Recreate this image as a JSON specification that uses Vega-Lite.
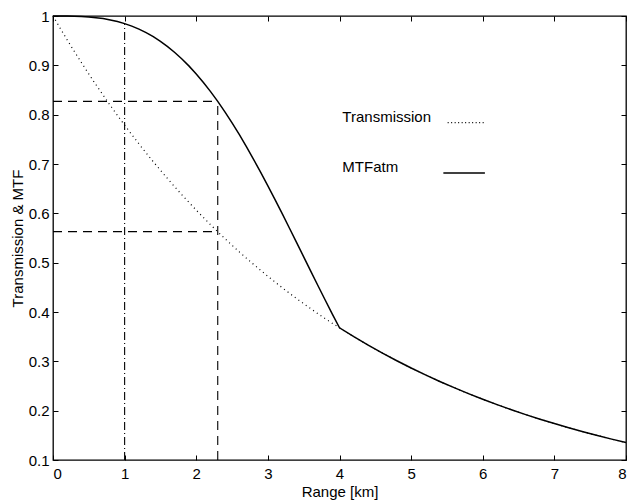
{
  "$schema": "https://vega.github.io/schema/vega-lite/v6.json",
  "width": 573,
  "height": 444,
  "autosize": "none",
  "padding": {"left": 53, "top": 16, "right": 3, "bottom": 40},
  "background": "white",
  "config": {
    "font": "Liberation Sans",
    "view": {"stroke": "black", "strokeWidth": 1.3},
    "axis": {
      "domain": false,
      "grid": false,
      "tickColor": "black",
      "tickWidth": 1,
      "labelColor": "black",
      "labelFont": "Liberation Sans",
      "labelFontSize": 15,
      "labelFontWeight": "normal",
      "titleColor": "black",
      "titleFont": "Liberation Sans",
      "titleFontSize": 15,
      "titleFontWeight": "normal"
    },
    "text": {"font": "Liberation Sans", "fontSize": 15, "color": "black"}
  },
  "datasets": {
    "transmission": [
      {"range": 0.0, "value": 1.0},
      {"range": 0.2, "value": 0.9512},
      {"range": 0.4, "value": 0.9048},
      {"range": 0.6, "value": 0.8607},
      {"range": 0.8, "value": 0.8187},
      {"range": 1.0, "value": 0.7788},
      {"range": 1.2, "value": 0.7408},
      {"range": 1.4, "value": 0.7047},
      {"range": 1.6, "value": 0.6703},
      {"range": 1.8, "value": 0.6376},
      {"range": 2.0, "value": 0.6065},
      {"range": 2.2, "value": 0.5769},
      {"range": 2.4, "value": 0.5488},
      {"range": 2.6, "value": 0.522},
      {"range": 2.8, "value": 0.4966},
      {"range": 3.0, "value": 0.4724},
      {"range": 3.2, "value": 0.4493},
      {"range": 3.4, "value": 0.4274},
      {"range": 3.6, "value": 0.4066},
      {"range": 3.8, "value": 0.3867},
      {"range": 4.0, "value": 0.3679},
      {"range": 4.2, "value": 0.3499},
      {"range": 4.4, "value": 0.3329},
      {"range": 4.6, "value": 0.3166},
      {"range": 4.8, "value": 0.3012},
      {"range": 5.0, "value": 0.2865},
      {"range": 5.2, "value": 0.2725},
      {"range": 5.4, "value": 0.2592},
      {"range": 5.6, "value": 0.2466},
      {"range": 5.8, "value": 0.2346},
      {"range": 6.0, "value": 0.2231},
      {"range": 6.2, "value": 0.2122},
      {"range": 6.4, "value": 0.2019},
      {"range": 6.6, "value": 0.192},
      {"range": 6.8, "value": 0.1827},
      {"range": 7.0, "value": 0.1738},
      {"range": 7.2, "value": 0.1653},
      {"range": 7.4, "value": 0.1572},
      {"range": 7.6, "value": 0.1496},
      {"range": 7.8, "value": 0.1423},
      {"range": 8.0, "value": 0.1353}
    ],
    "mtf": [
      {"range": 0.0, "value": 1.0},
      {"range": 0.1, "value": 1.0},
      {"range": 0.2, "value": 0.9999},
      {"range": 0.3, "value": 0.9996},
      {"range": 0.4, "value": 0.999},
      {"range": 0.5, "value": 0.998},
      {"range": 0.6, "value": 0.9966},
      {"range": 0.7, "value": 0.9947},
      {"range": 0.8, "value": 0.992},
      {"range": 0.9, "value": 0.9887},
      {"range": 1.0, "value": 0.9845},
      {"range": 1.1, "value": 0.9794},
      {"range": 1.2, "value": 0.9734},
      {"range": 1.3, "value": 0.9663},
      {"range": 1.4, "value": 0.958},
      {"range": 1.5, "value": 0.9486},
      {"range": 1.6, "value": 0.938},
      {"range": 1.7, "value": 0.9261},
      {"range": 1.8, "value": 0.9129},
      {"range": 1.9, "value": 0.8984},
      {"range": 2.0, "value": 0.8825},
      {"range": 2.1, "value": 0.8653},
      {"range": 2.2, "value": 0.8467},
      {"range": 2.3, "value": 0.8269},
      {"range": 2.4, "value": 0.8057},
      {"range": 2.5, "value": 0.7834},
      {"range": 2.6, "value": 0.7599},
      {"range": 2.7, "value": 0.7352},
      {"range": 2.8, "value": 0.7096},
      {"range": 2.9, "value": 0.6831},
      {"range": 3.0, "value": 0.6558},
      {"range": 3.1, "value": 0.6278},
      {"range": 3.2, "value": 0.5993},
      {"range": 3.3, "value": 0.5703},
      {"range": 3.4, "value": 0.5411},
      {"range": 3.5, "value": 0.5118},
      {"range": 3.6, "value": 0.4824},
      {"range": 3.7, "value": 0.4532},
      {"range": 3.8, "value": 0.4243},
      {"range": 3.9, "value": 0.3958},
      {"range": 4.0, "value": 0.3679},
      {"range": 4.2, "value": 0.3499},
      {"range": 4.4, "value": 0.3329},
      {"range": 4.6, "value": 0.3166},
      {"range": 4.8, "value": 0.3012},
      {"range": 5.0, "value": 0.2865},
      {"range": 5.2, "value": 0.2725},
      {"range": 5.4, "value": 0.2592},
      {"range": 5.6, "value": 0.2466},
      {"range": 5.8, "value": 0.2346},
      {"range": 6.0, "value": 0.2231},
      {"range": 6.2, "value": 0.2122},
      {"range": 6.4, "value": 0.2019},
      {"range": 6.6, "value": 0.192},
      {"range": 6.8, "value": 0.1827},
      {"range": 7.0, "value": 0.1738},
      {"range": 7.2, "value": 0.1653},
      {"range": 7.4, "value": 0.1572},
      {"range": 7.6, "value": 0.1496},
      {"range": 7.8, "value": 0.1423},
      {"range": 8.0, "value": 0.1353}
    ],
    "guides": [
      {"kind": "dashed", "x0": 0, "x1": 2.3, "y0": 0.827, "y1": 0.827},
      {"kind": "dashed", "x0": 0, "x1": 2.3, "y0": 0.563, "y1": 0.563},
      {"kind": "dashed", "x0": 2.3, "x1": 2.3, "y0": 0.1, "y1": 0.827},
      {"kind": "dashdot", "x0": 1, "x1": 1, "y0": 0.1, "y1": 0.985}
    ],
    "legend": [
      {"series": "Transmission", "lx": 4.04, "ly": 0.795, "sx0": 5.51, "sx1": 6.03, "sy": 0.784},
      {"series": "MTFatm", "lx": 4.04, "ly": 0.694, "sx0": 5.45, "sx1": 6.03, "sy": 0.682}
    ]
  },
  "layer": [
    {
      "layer": [
        {
          "data": {"name": "transmission"},
          "mark": {"type": "line", "color": "black", "strokeWidth": 1.2, "strokeDash": [1, 3.5], "interpolate": "monotone"},
          "encoding": {
            "x": {
              "field": "range", "type": "quantitative", "title": "Range [km]",
              "scale": {"domain": [0, 8], "nice": false},
              "axis": {"orient": "bottom", "values": [0, 1, 2, 3, 4, 5, 6, 7, 8], "format": "d", "tickSize": -5, "labelPadding": 11, "titlePadding": 3}
            },
            "y": {
              "field": "value", "type": "quantitative", "title": "Transmission & MTF",
              "scale": {"domain": [0.1, 1], "nice": false, "zero": false},
              "axis": {"orient": "left", "values": [0.1, 0.2, 0.3, 0.4, 0.5, 0.6, 0.7, 0.8, 0.9, 1], "format": "~g", "tickSize": -5, "labelPadding": 9, "titlePadding": 3}
            }
          }
        },
        {
          "data": {"name": "mtf"},
          "mark": {"type": "line", "color": "black", "strokeWidth": 1.5, "interpolate": "linear"},
          "encoding": {
            "x": {"field": "range", "type": "quantitative", "title": "Range [km]"},
            "y": {"field": "value", "type": "quantitative", "title": "Transmission & MTF"}
          }
        },
        {
          "data": {"name": "guides"},
          "transform": [{"filter": "datum.kind === 'dashed'"}],
          "mark": {"type": "rule", "color": "black", "strokeWidth": 1.1, "strokeDash": [9, 6]},
          "encoding": {
            "x": {"field": "x0", "type": "quantitative", "title": "Range [km]"},
            "x2": {"field": "x1"},
            "y": {"field": "y0", "type": "quantitative", "title": "Transmission & MTF"},
            "y2": {"field": "y1"}
          }
        },
        {
          "data": {"name": "guides"},
          "transform": [{"filter": "datum.kind === 'dashdot'"}],
          "mark": {"type": "rule", "color": "black", "strokeWidth": 1.1, "strokeDash": [8, 3, 1, 3]},
          "encoding": {
            "x": {"field": "x0", "type": "quantitative", "title": "Range [km]"},
            "x2": {"field": "x1"},
            "y": {"field": "y0", "type": "quantitative", "title": "Transmission & MTF"},
            "y2": {"field": "y1"}
          }
        },
        {
          "data": {"name": "legend"},
          "mark": {"type": "text", "align": "left", "baseline": "middle"},
          "encoding": {
            "x": {"field": "lx", "type": "quantitative", "title": "Range [km]"},
            "y": {"field": "ly", "type": "quantitative", "title": "Transmission & MTF"},
            "text": {"field": "series"}
          }
        },
        {
          "data": {"name": "legend"},
          "transform": [{"filter": "datum.series === 'Transmission'"}],
          "mark": {"type": "rule", "color": "black", "strokeWidth": 1.2, "strokeDash": [1, 2.5]},
          "encoding": {
            "x": {"field": "sx0", "type": "quantitative", "title": "Range [km]"},
            "x2": {"field": "sx1"},
            "y": {"field": "sy", "type": "quantitative", "title": "Transmission & MTF"}
          }
        },
        {
          "data": {"name": "legend"},
          "transform": [{"filter": "datum.series === 'MTFatm'"}],
          "mark": {"type": "rule", "color": "black", "strokeWidth": 1.5},
          "encoding": {
            "x": {"field": "sx0", "type": "quantitative", "title": "Range [km]"},
            "x2": {"field": "sx1"},
            "y": {"field": "sy", "type": "quantitative", "title": "Transmission & MTF"}
          }
        }
      ]
    },
    {
      "data": {"name": "transmission"},
      "mark": {"type": "line", "strokeOpacity": 0},
      "encoding": {
        "x": {
          "field": "range", "type": "quantitative",
          "axis": {"orient": "top", "values": [0, 1, 2, 3, 4, 5, 6, 7, 8], "labels": false, "title": null, "tickSize": -5}
        },
        "y": {
          "field": "value", "type": "quantitative",
          "axis": {"orient": "right", "values": [0.1, 0.2, 0.3, 0.4, 0.5, 0.6, 0.7, 0.8, 0.9, 1], "labels": false, "title": null, "tickSize": -5}
        }
      }
    }
  ],
  "resolve": {"axis": {"x": "independent", "y": "independent"}}
}
